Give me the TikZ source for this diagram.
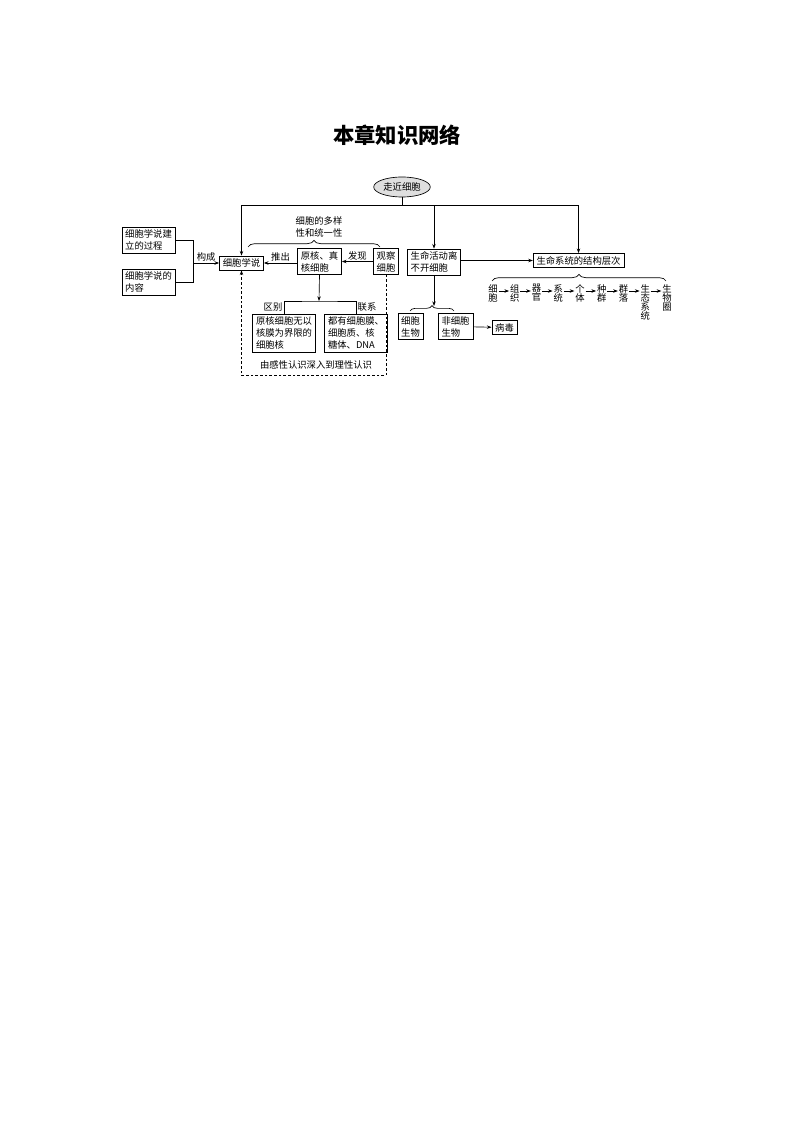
\documentclass[tikz,border=0pt]{standalone}
\usepackage{fontspec}
\setmainfont{Noto Sans CJK SC}
\usetikzlibrary{arrows.meta, positioning, calc, shapes.geometric, decorations.pathreplacing}

\begin{document}
\begin{tikzpicture}[
            x=0.75pt, y=-0.75pt,
            line width=0.5pt,
            font=\fontsize{7}{9}\selectfont,
            box/.style={draw, rectangle, inner xsep=2.5pt, inner ysep=2pt, align=left},
            lvl/.style={anchor=north, inner sep=0.5pt, align=center, font=\fontsize{7}{6.8}\selectfont},
            brc/.style={decorate, decoration={brace, amplitude=#1}},
            >={Stealth[length=3.5pt, width=2.6pt]}
        ]
            \useasboundingbox (0,0) rectangle (794,1123);

            % title
            \node (T) at (397,135) {\fontsize{16}{16}\selectfont\bfseries 本章知识网络};

            % root
            \node[draw, ellipse, fill=gray!25, minimum width=36pt, minimum height=15pt, inner sep=1pt] (Z) at (402,187) {走近细胞};
            \coordinate (Z1) at (402,205.5);

            % cell theory
            \node[box] (P1) at (148.5,240) {细胞学说建\\立的过程};
            \node[box] (P2) at (148.5,282) {细胞学说的\\内容};
            \coordinate (J) at (193,263);
            \node[box] (C) at (241.5,263) {细胞学说};
            \node[box] (K) at (319.5,261.5) {原核、真\\核细胞};
            \node[box] (O) at (386,261.5) {观察\\细胞};
            \node[align=center, inner sep=1pt] (U) at (319,227) {细胞的多样\\性和统一性};

            % difference and connection
            \coordinate (R) at (319,301);
            \node[box] (D1) at (284,333) {原核细胞无以\\核膜为界限的\\细胞核};
            \node[box] (D2) at (356,333) {都有细胞膜、\\细胞质、核\\糖体、DNA};
            \node[inner sep=1pt] (Q) at (316,365) {由感性认识深入到理性认识};
            \coordinate (W) at (0,375.5);

            % life and cells
            \node[box] (L) at (434,262) {生命活动离\\不开细胞};
            \node[box] (S) at (578.5,260.5) {生命系统的结构层次};
            \node[box] (B1) at (410.5,326.5) {细胞\\生物};
            \node[box] (B2) at (455.5,326.5) {非细胞\\生物};
            \node[box] (V) at (504.5,327.5) {病毒};
            \coordinate (M) at (434,306);

            % levels
            \coordinate (Y) at (0,291);
            \foreach \t [count=\i] in {细\\胞, 组\\织, 器\\官, 系\\统, 个\\体, 种\\群, 群\\落, 生\\态\\系\\统, 生\\物\\圈}
                \node[lvl] (H\i) at ({493+21.75*(\i-1)},283.5) {\t};
            \foreach \i [evaluate=\i as \j using int(\i+1)] in {1,...,8}
                \draw[->] (H\i.east |- Y) -- (H\j.west |- Y);

            % Edges
            \draw (Z) -- (Z1);
            \draw[->] (Z1) -| (C.north);
            \draw[->] (Z1) -| (S.north);
            \draw[->] (Z1 -| L.north) -- (L.north);

            \draw (P1.east) -- (P1.east -| J) -- (P2.east -| J) -- (P2.east);
            \draw[->] (J) -- node[above, inner sep=1pt] {构成} (C.west);
            \draw[->] (K.west |- C.east) -- node[above, inner sep=1pt] {推出} (C.east);
            \draw[->] (O) -- node[above, inner sep=1pt] {发现} (K);
            \draw[brc=5pt] (248,247) -- (380,247);

            \draw[->] (K.south) -- (R);
            \draw (D1.north) |- (R) -| (D2.north);
            \node[inner sep=1pt, anchor=north east] at (284,301.5) {区别};
            \node[inner sep=1pt, anchor=north west] at (356,301.5) {联系};
            \draw[dash pattern=on 2pt off 1.5pt, ->] (O.south) -- (O.south |- W) -| (C.south);

            \draw[->] (L.east |- S.west) -- (S.west);
            \draw[brc=5pt] (492,281) -- (666,281);
            \draw[->] (L.south) -- (M);
            \draw[brc=4pt] (410,311) -- (454,311);
            \draw[->] (B2) -- (V);
        \end{tikzpicture}
\end{document}
